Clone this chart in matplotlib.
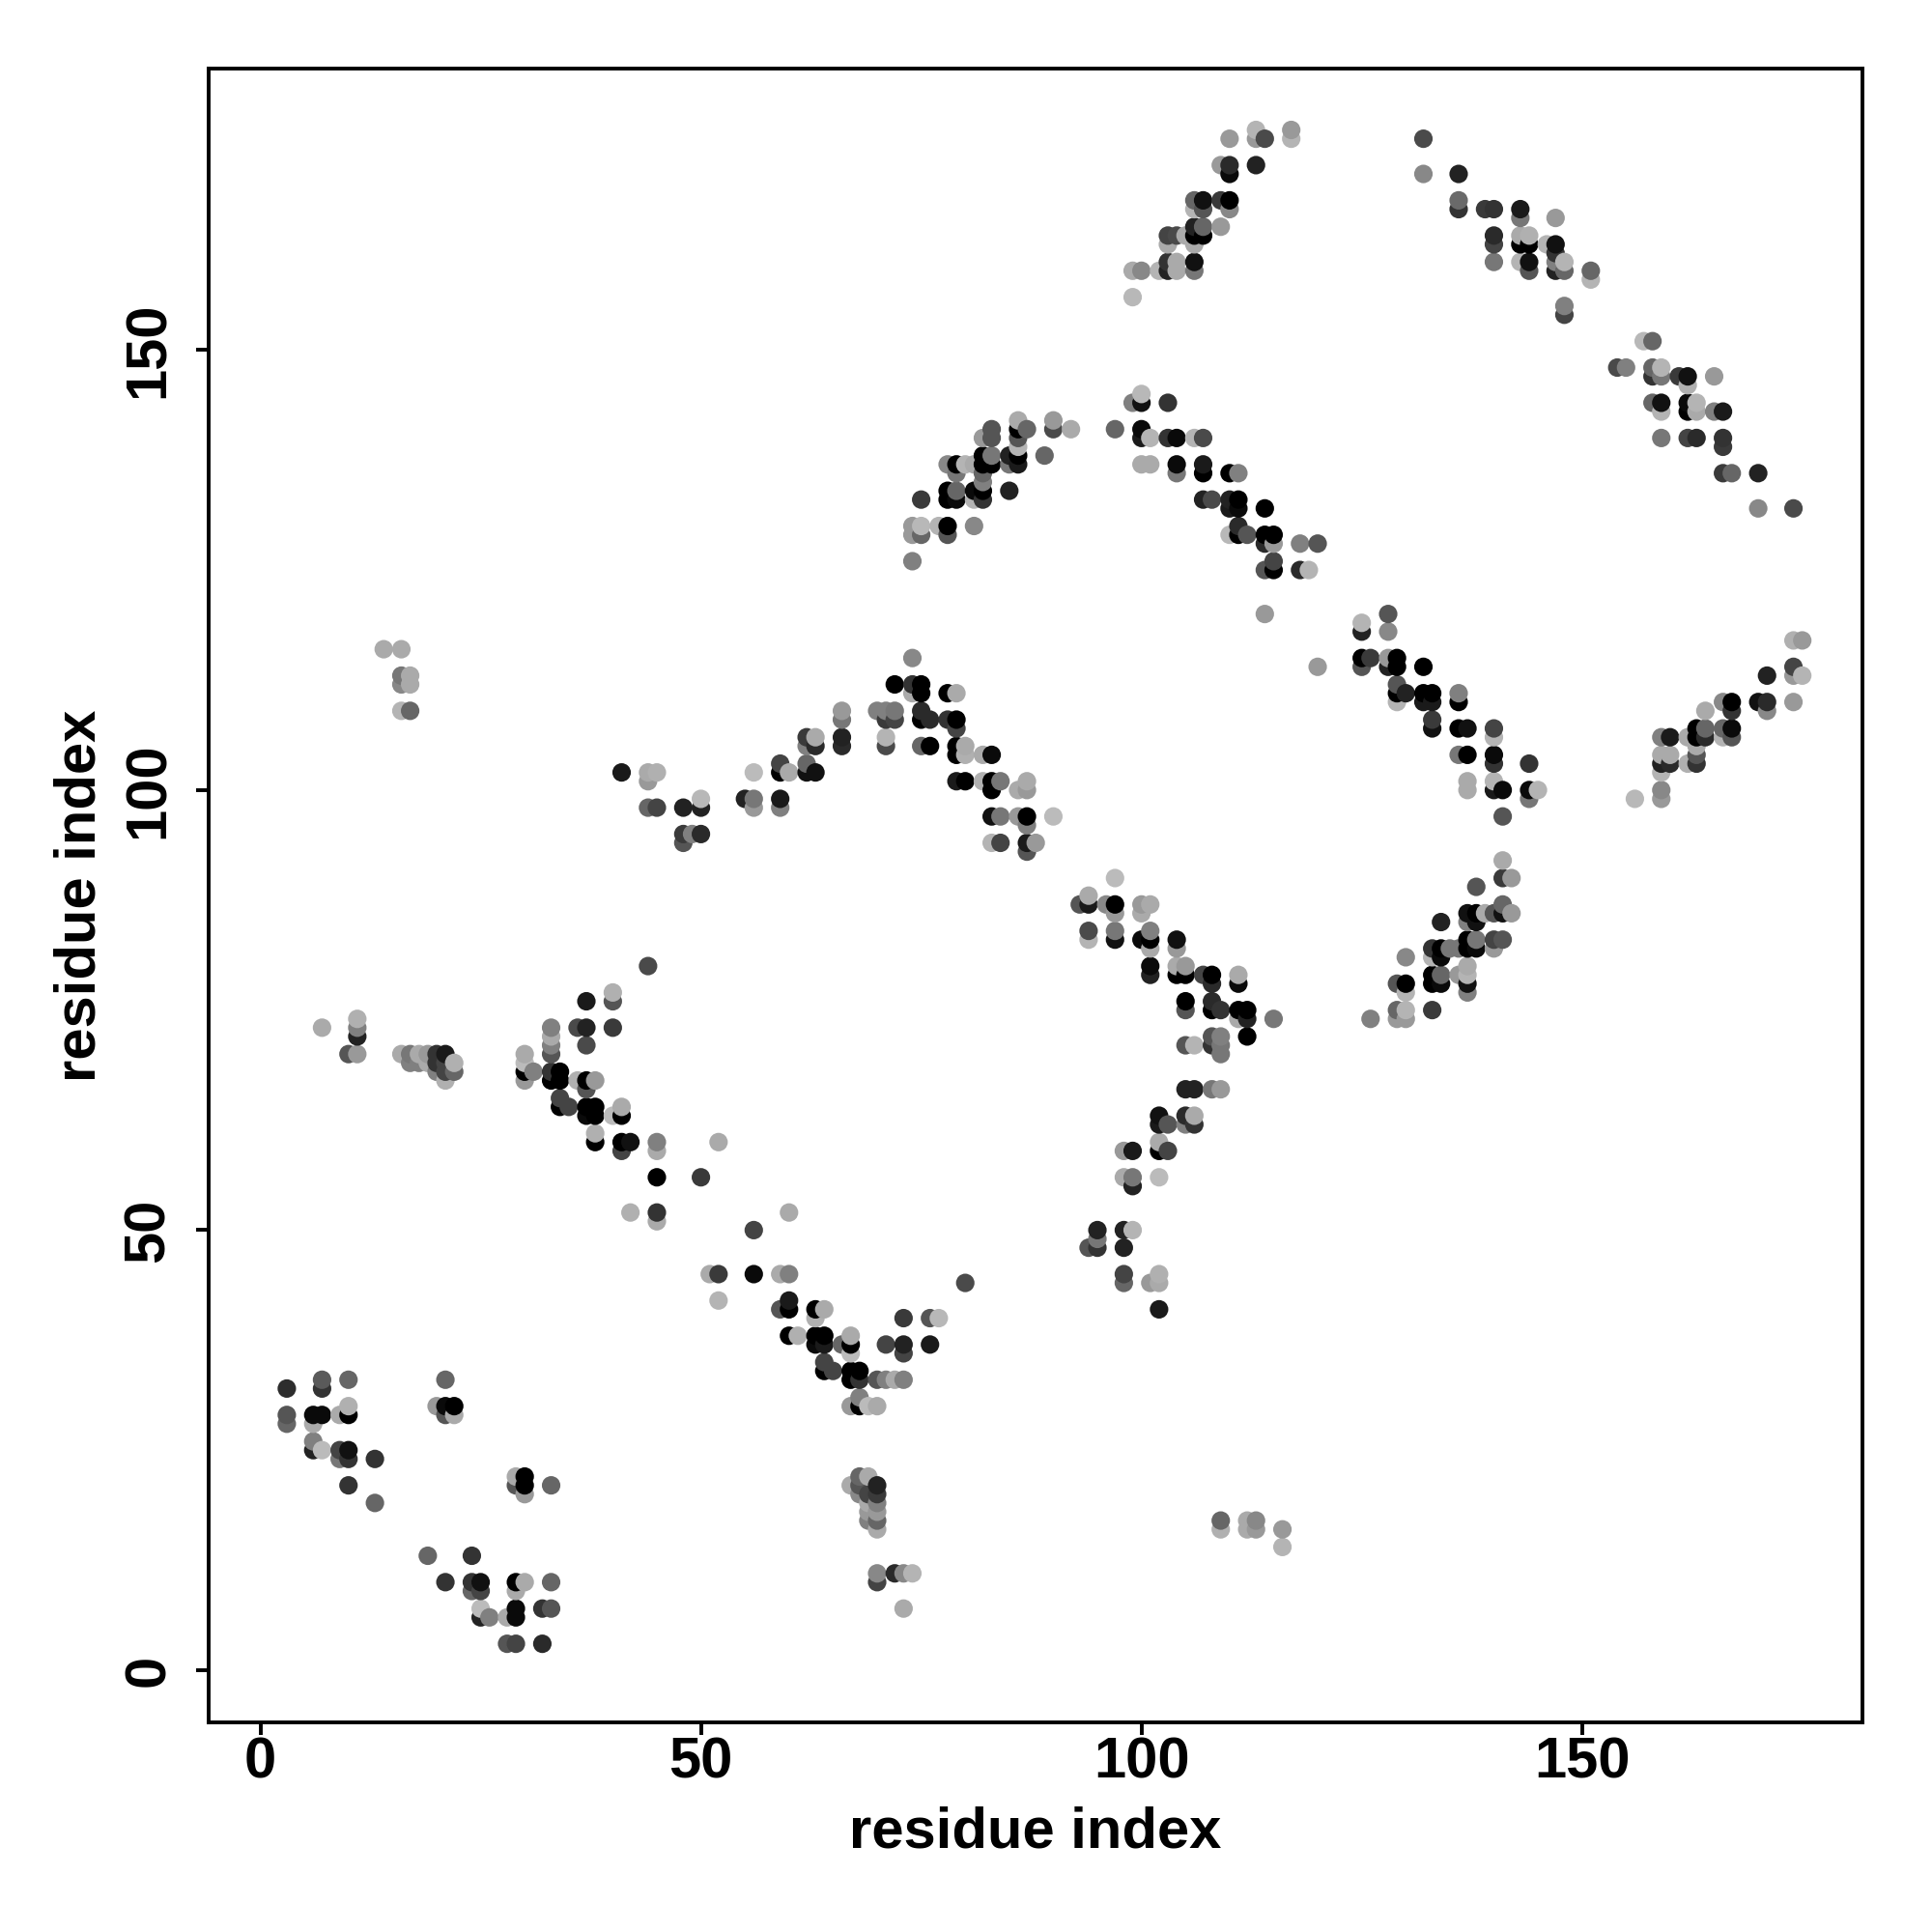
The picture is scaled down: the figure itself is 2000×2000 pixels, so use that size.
#!/usr/bin/env python3
"""Residue contact map, drawn in gray levels."""

import matplotlib
matplotlib.use('Agg')
import matplotlib.pyplot as plt
import numpy as np

# each contact: (residue i, residue j, gray level 0-255)
contacts_n_term = [
    (3,32,45),(7,33,90),(7,32,51),(10,33,102),(21,33,102),(3,29,85),(3,28,102),(6,29,10),(7,29,10),
    (6,28,170),(9,29,170),(10,29,0),(10,30,176),(6,26,128),(6,25,34),(7,25,187),(9,25,68),(9,24,119),
    (10,25,17),(10,24,51),(13,24,51),(10,21,51),(13,19,102),(20,30,153),(21,30,10),(22,30,0),(21,29,85),
    (22,29,170),(19,13,102),(24,13,51),(21,10,51),(24,10,51),(25,10,17),(24,9,102),(25,9,68),(29,10,0),
    (30,10,170),(29,9,170),(33,10,102),(25,7,187),(25,6,34),(26,6,128),(28,6,170),(29,7,10),(29,6,10),
    (32,7,51),(33,7,85),(28,3,85),(29,3,68),(32,3,42),(29,22,170),(30,22,0),(29,21,85),(30,21,0),
    (30,20,153),(33,21,102),
]
contacts_strand_low = [
    (45,52,51),(45,51,170),(42,52,176),(56,50,68),(60,52,170),(51,45,170),(52,45,58),(56,45,10),(59,45,170),
    (60,45,128),(52,42,180),(80,44,74),(59,41,85),(60,41,0),(60,42,26),(63,41,0),(64,41,170),(63,40,176),
    (60,38,0),(61,38,176),(63,38,0),(64,38,0),(63,37,10),(64,37,26),(66,37,102),(67,38,170),(67,37,0),
    (67,36,187),(64,35,68),(64,34,0),(65,34,68),(67,34,0),(68,34,0),(67,33,0),(68,33,51),(70,33,85),
    (71,33,128),(72,33,170),(73,33,128),(68,31,128),(67,30,153),(68,30,0),(69,30,187),(70,30,170),(71,37,68),
    (73,40,58),(73,37,34),(73,36,68),(76,40,85),(77,40,184),(76,37,26),(68,22,102),(69,22,170),(67,21,170),
    (68,21,85),(70,21,34),(69,20,68),(68,20,136),(70,20,58),(69,19,170),(70,19,128),(69,18,153),(70,18,153),
    (69,17,128),(70,17,102),(70,16,170),(70,11,136),(70,10,68),(72,11,42),(73,11,136),(74,11,180),(73,7,170),
]
contacts_left_mid = [
    (44,80,74),(37,76,26),(40,77,176),(40,76,85),(33,73,128),(33,72,170),(33,71,128),(33,70,85),(36,73,74),
    (37,73,34),(37,71,74),(40,73,58),(7,73,170),(11,74,176),(11,73,128),(11,72,34),(10,70,85),(11,70,153),
    (16,70,170),(17,70,119),(17,69,128),(18,70,170),(18,69,128),(19,70,153),(19,69,170),(20,70,51),(20,69,51),
    (20,68,128),(21,70,26),(21,69,68),(21,68,68),(21,67,176),(22,69,176),(22,68,102),(30,70,170),(30,69,187),
    (30,68,0),(30,67,153),(31,68,128),(33,68,51),(34,68,0),(33,67,0),(34,67,0),(36,67,176),(37,67,0),
    (38,67,153),(37,66,85),(34,65,68),(34,64,0),(35,64,68),(37,64,0),(38,64,0),(37,63,10),(38,63,0),
    (40,63,187),(41,64,170),(41,63,0),(38,61,176),(38,60,0),(41,60,0),(42,60,17),(41,59,68),(45,60,128),
    (45,59,170),(52,60,170),(45,56,0),(50,56,58),
]
contacts_centre = [
    (97,90,187),(93,87,85),(94,88,170),(94,87,26),(96,87,136),(97,87,0),(97,86,153),(100,87,153),(101,87,170),
    (100,86,170),(94,84,74),(94,83,180),(97,84,119),(97,83,17),(100,83,10),(101,84,128),(101,83,0),(101,82,170),
    (104,83,17),(104,82,153),(101,80,10),(101,79,34),(104,80,170),(105,80,153),(104,79,0),(105,79,0),(107,79,68),
    (108,79,0),(108,78,42),(111,79,170),(111,78,10),(105,76,0),(105,75,85),(108,76,42),(108,75,0),(109,75,51),
    (111,75,0),(112,75,0),(111,74,170),(112,74,34),(115,74,119),(112,72,0),(105,71,85),(106,71,180),(108,72,85),
    (109,72,128),(108,71,51),(109,71,119),(109,70,119),(105,66,34),(106,66,34),(108,66,119),(109,66,153),(102,63,17),
    (102,62,26),(103,62,85),(105,63,42),(106,63,170),(105,62,128),(106,62,51),(102,60,170),(102,59,0),(103,59,68),
    (98,59,153),(99,59,26),(98,56,170),(99,56,119),(99,55,34),(102,56,187),(95,50,34),(95,49,119),(94,48,85),
    (95,48,51),(98,50,34),(99,50,180),(98,48,34),(98,45,68),(98,44,102),(101,44,153),(102,45,176),(102,44,170),
    (102,41,26),(109,17,102),(109,16,176),(112,17,170),(113,17,136),(112,16,170),(113,16,153),(116,16,153),(116,14,180),
]
contacts_hairpin = [
    (41,102,26),(44,102,170),(45,102,176),(44,101,153),(44,98,102),(45,98,68),(48,98,34),(50,99,184),(50,98,34),
    (48,95,58),(48,94,85),(49,95,128),(50,95,42),(56,102,187),(55,99,34),(56,99,119),(56,98,153),(59,99,26),
    (59,98,128),(59,103,68),(59,102,0),(60,102,170),(62,103,102),(62,102,17),(63,102,17),(62,106,58),(62,105,128),
    (63,106,170),(63,105,42),(66,109,153),(66,108,119),(66,106,34),(66,105,42),(70,109,128),(71,109,128),(72,109,119),
    (71,108,58),(72,108,68),(71,106,180),(71,105,74),(74,115,136),(72,112,0),(74,112,51),(75,112,0),(75,111,0),
    (74,111,170),(78,111,0),(79,111,170),(75,109,42),(75,108,0),(76,108,42),(78,108,51),(79,108,0),(79,107,68),
    (75,105,102),(76,105,0),(79,105,0),(80,105,170),(79,104,0),(80,104,176),(82,104,170),(83,104,10),(79,101,26),
    (80,101,0),(82,101,176),(83,101,0),(84,101,119),(83,100,0),(86,100,170),(87,101,170),(87,100,153),(83,97,17),
    (84,97,119),(86,97,153),(87,97,0),(87,96,128),(90,97,187),(83,94,180),(84,94,68),(87,94,26),(88,94,153),(87,93,85),
    (16,116,170),(14,116,170),
]
contacts_mid_right = [
    (128,120,85),(125,119,180),(125,118,34),(128,118,136),(125,115,0),(125,114,85),(126,115,58),(128,115,153),
    (129,115,0),(128,114,34),(129,114,0),(132,114,0),(129,112,85),(129,111,0),(130,111,34),(129,110,180),(132,111,0),
    (133,111,0),(132,110,26),(133,110,26),(136,111,128),(136,110,0),(133,108,58),(133,107,17),(136,107,0),(137,107,17),
    (140,107,68),(140,106,180),(136,104,119),(137,104,0),(140,104,10),(140,103,51),(144,103,51),(137,101,170),
    (137,100,170),(140,101,180),(140,100,26),(141,100,10),(144,100,10),(145,100,180),(144,99,119),(141,97,85),
    (120,114,153),
    (174,117,176),(175,117,153),(174,114,68),(174,113,153),(175,113,180),(171,113,34),(174,110,153),(170,110,17),
    (171,110,42),(171,109,136),(166,110,136),(167,110,0),(167,109,51),(164,109,170),(163,107,0),(163,106,0),(164,107,102),
    (164,106,42),(166,107,102),(167,107,10),(166,106,180),(167,106,85),(162,106,170),(163,105,170),(159,106,128),(160,106,26),
    (159,104,170),(160,104,170),(159,103,34),(160,103,42),(159,102,180),(162,103,176),(163,104,85),(163,103,51),(159,100,136),
    (159,99,153),(156,99,184),
    (141,92,170),(141,90,58),(142,90,153),(138,89,85),(141,87,102),(141,86,17),(142,86,153),(140,86,85),(139,86,170),
    (137,86,17),(138,86,0),(137,85,128),(138,85,17),(134,85,34),(140,83,68),(141,83,85),(140,82,153),(137,83,0),(138,83,119),
    (137,82,0),(138,82,10),(133,82,51),(134,82,0),(135,82,119),(136,82,119),(133,81,180),(134,81,10),(130,81,136),(137,80,170),
    (137,79,180),(137,78,17),(137,77,128),(136,79,153),(133,79,0),(134,79,102),(133,78,0),(134,78,10),(129,78,85),(130,78,0),
    (130,77,180),(133,75,58),(129,75,102),(130,75,180),(129,74,153),(130,74,153),(126,74,128),
]
contacts_arch = [
    (74,126,128),(74,130,153),(74,129,153),(75,130,184),(75,129,102),(77,130,180),(78,130,0),(78,129,85),(81,130,136),
    (75,133,58),(78,134,0),(78,133,0),(79,134,102),(79,133,10),(81,134,10),(81,133,180),(82,134,0),(82,135,128),
    (82,133,51),(82,136,102),(85,134,34),(78,137,136),(79,137,0),(79,136,119),(80,137,180),(81,137,170),(82,138,0),
    (82,137,0),(83,138,119),(83,137,0),(85,138,34),(85,137,119),(86,138,0),(86,137,26),(86,139,180),(89,138,102),
    (82,140,153),(83,141,85),(83,140,85),(86,142,170),(86,141,0),(87,141,102),(86,140,85),(90,142,153),(90,141,74),
    (92,141,170),(97,141,102),(100,145,184),(99,144,128),(100,144,17),(103,144,51),(100,141,10),(100,140,26),(101,140,180),
    (103,140,51),(104,140,10),(106,140,180),(107,140,74),(100,137,170),(101,137,170),(104,137,10),(104,136,119),(107,137,26),
    (107,136,0),(110,136,0),(111,136,128),(107,133,34),(108,133,74),(110,133,34),(111,133,0),(110,132,26),(111,132,10),
    (114,132,0),(111,130,42),(110,129,184),(111,129,0),(112,129,85),(114,129,0),(115,129,0),(114,128,42),(115,128,153),
    (118,128,128),(120,128,85),(114,125,85),(115,126,68),(115,125,0),(118,125,42),(119,125,180),(114,120,153),
    (16,113,119),(17,113,170),(16,112,136),(17,112,170),(16,109,180),(17,109,102),
]
contacts_top = [
    (99,156,184),(99,159,170),(100,159,136),(102,159,180),(103,160,51),(103,159,34),(104,160,170),(104,159,170),
    (106,160,17),(106,159,119),(103,163,68),(103,162,170),(104,163,74),(105,163,170),(106,164,34),(106,163,0),(107,164,102),
    (107,163,0),(106,162,170),(109,164,153),(106,167,102),(106,166,180),(107,167,17),(107,166,85),(109,167,58),(110,167,0),
    (110,166,136),(109,171,153),(110,171,42),(110,170,10),(113,171,34),(110,174,153),(113,175,180),(113,174,153),(114,174,74),
    (117,175,153),(117,174,180),
    (132,174,74),(132,170,136),(136,170,34),(136,167,106),(136,166,51),(139,166,58),(140,166,51),(143,166,26),(143,165,119),
    (147,165,153),(140,163,42),(140,162,68),(143,163,170),(144,163,176),(143,162,0),(144,162,0),(146,162,180),(147,162,17),
    (147,161,51),(140,160,119),(143,160,180),(144,160,17),(144,159,85),(147,160,128),(147,159,34),(148,160,180),(148,159,102),
    (151,159,102),(151,158,180),(148,155,128),(148,154,68),(157,151,184),(158,151,102),(154,148,74),(155,148,128),(158,148,102),
    (159,148,180),(158,147,51),(159,147,119),(161,147,58),(162,147,17),(162,146,176),(165,147,153),(158,144,102),(159,144,17),
    (159,143,180),(162,144,10),(162,143,0),(163,144,180),(163,143,170),(165,143,128),(166,143,26),(159,140,119),(162,140,68),
    (163,140,42),(166,140,51),(166,139,58),(166,136,58),(167,136,102),(170,136,34),(170,132,136),(174,132,74),
]
ticks = [0, 50, 100, 150]
axis_label = 'residue index'

plt.rcParams['font.family'] = ['Liberation Sans', 'DejaVu Sans']
plt.rcParams['font.weight'] = 'bold'

all_contacts = np.array(contacts_n_term + contacts_strand_low + contacts_left_mid + contacts_centre
                        + contacts_hairpin + contacts_mid_right + contacts_arch + contacts_top)
# later residues sit on top of earlier ones
order = np.lexsort((all_contacts[:, 1], all_contacts[:, 0]))
all_contacts = all_contacts[order]

fig = plt.figure(figsize=(20, 20), dpi=100)
ax = fig.add_axes([216 / 2000, 1 - 1783 / 2000, 1712 / 2000, 1712 / 2000])
ax.scatter(all_contacts[:, 0], all_contacts[:, 1], s=190, c=all_contacts[:, 2] / 255, cmap='gray',
           vmin=0, vmax=1, linewidths=0, clip_on=False)

ax.set_xlim(-5.87, 181.83)
ax.set_ylim(-5.93, 181.97)
ax.set_xticks(ticks)
ax.set_yticks(ticks)
for spine in ax.spines.values():
    spine.set_linewidth(2.8)
ax.tick_params(length=9.5, width=2.8, labelsize=43)
ax.tick_params(axis='x', pad=1)
ax.tick_params(axis='y', pad=15)
for label in ax.get_yticklabels():
    label.set_rotation(90)
    label.set_va('center')
ax.set_xlabel(axis_label, fontsize=43, fontweight='bold', labelpad=12)
ax.set_ylabel(axis_label, fontsize=43, fontweight='bold', labelpad=12)

fig.savefig('out.png', dpi=100)
